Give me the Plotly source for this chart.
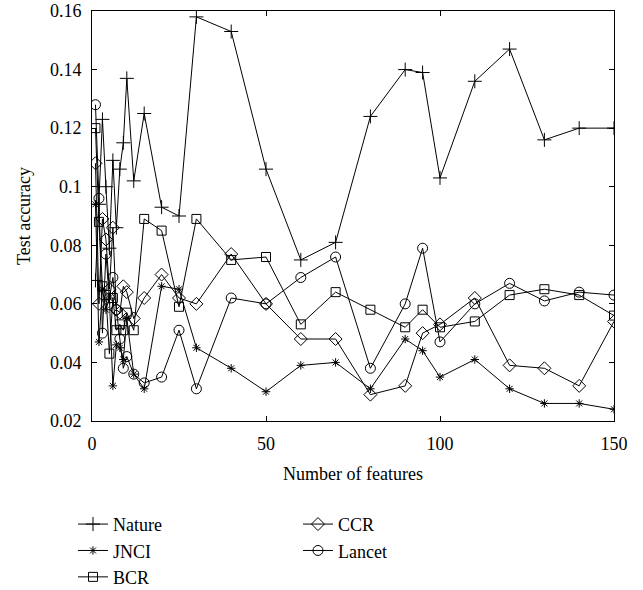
import plotly.graph_objects as go

features = [1, 2, 3, 4, 5, 6, 7, 8, 9, 10, 12, 15, 20, 25, 30, 40, 50, 60, 70, 80, 90, 95, 100, 110, 120, 130, 140, 150]

nature = [0.068, 0.094, 0.123, 0.100, 0.079, 0.109, 0.086, 0.106, 0.115, 0.137, 0.102, 0.125, 0.093, 0.090,
          0.158, 0.153, 0.106, 0.075, 0.081, 0.124, 0.140, 0.139, 0.103, 0.136, 0.147, 0.116, 0.120, 0.120]
jnci = [0.094, 0.047, 0.065, 0.058, 0.062, 0.032, 0.046, 0.045, 0.041, 0.055, 0.036, 0.031, 0.066, 0.065,
        0.045, 0.038, 0.030, 0.039, 0.040, 0.031, 0.048, 0.044, 0.035, 0.041, 0.031, 0.026, 0.026, 0.024]
bcr = [0.120, 0.088, 0.066, 0.063, 0.043, 0.062, 0.051, 0.053, 0.051, 0.057, 0.051, 0.089, 0.085, 0.059,
       0.089, 0.075, 0.076, 0.053, 0.064, 0.058, 0.052, 0.058, 0.052, 0.054, 0.063, 0.065, 0.063, 0.056]
ccr = [0.108, 0.060, 0.089, 0.082, 0.065, 0.086, 0.058, 0.057, 0.066, 0.064, 0.055, 0.062, 0.070, 0.062,
       0.060, 0.077, 0.060, 0.048, 0.048, 0.029, 0.032, 0.050, 0.053, 0.062, 0.039, 0.038, 0.032, 0.054]
lancet = [0.128, 0.096, 0.050, 0.077, 0.062, 0.069, 0.058, 0.048, 0.038, 0.042, 0.036, 0.033, 0.035, 0.051,
          0.031, 0.062, 0.060, 0.069, 0.076, 0.038, 0.060, 0.079, 0.047, 0.060, 0.067, 0.061, 0.064, 0.063]

y_ticks = [0.02, 0.04, 0.06, 0.08, 0.1, 0.12, 0.14, 0.16]
y_ticktext = ["0.02", "0.04", "0.06", "0.08", "0.1", "0.12", "0.14", "0.16"]
x_ticks = [0, 50, 100, 150]

FONT = "Liberation Serif, DejaVu Serif, serif"
fig = go.Figure()

series = [
    ("Nature", nature, "cross-thin-open", 10, "legend"),
    ("JNCI", jnci, "asterisk-open", 7, "legend"),
    ("BCR", bcr, "square-open", 9, "legend"),
    ("CCR", ccr, "diamond-open", 10, "legend2"),
    ("Lancet", lancet, "circle-open", 10, "legend2"),
]
for name, vals, sym, sz, lg in series:
    fig.add_trace(go.Scatter(
        x=features, y=vals, name=name, mode="lines+markers",
        line=dict(color="black", width=1),
        marker=dict(symbol=sym, size=sz, color="black", line=dict(color="black", width=1)),
        legend=lg,
    ))

axis_common = dict(
    showline=True, linecolor="black", linewidth=1, mirror="ticks",
    ticks="inside", ticklen=5, tickcolor="black", tickwidth=1,
    showgrid=False, zeroline=False,
    tickfont=dict(family=FONT, size=18, color="black"),
)

fig.update_xaxes(range=[0, 150], tickvals=x_ticks, ticklabelstandoff=6,
                 title=dict(text="Number of features", font=dict(family=FONT, size=18, color="black"), standoff=14),
                 **axis_common)
fig.update_yaxes(range=[0.02, 0.16], tickvals=y_ticks, ticktext=y_ticktext, ticklabelstandoff=6,
                 title=dict(text="Test accuracy", font=dict(family=FONT, size=18, color="black"), standoff=14),
                 **axis_common)

legend_style = dict(
    font=dict(family=FONT, size=18, color="black"),
    bgcolor="rgba(0,0,0,0)", borderwidth=0,
    orientation="v", xanchor="left", yanchor="top", tracegroupgap=0,
)
fig.update_layout(
    width=643, height=590,
    margin=dict(l=92, r=29, t=11, b=169, autoexpand=False),
    plot_bgcolor="white", paper_bgcolor="white",
    font=dict(family=FONT, size=18, color="black"),
    legend=dict(x=-0.0364, y=-0.207, **legend_style),
    legend2=dict(x=0.3946, y=-0.207, **legend_style),
)

fig.write_html("out.html")
